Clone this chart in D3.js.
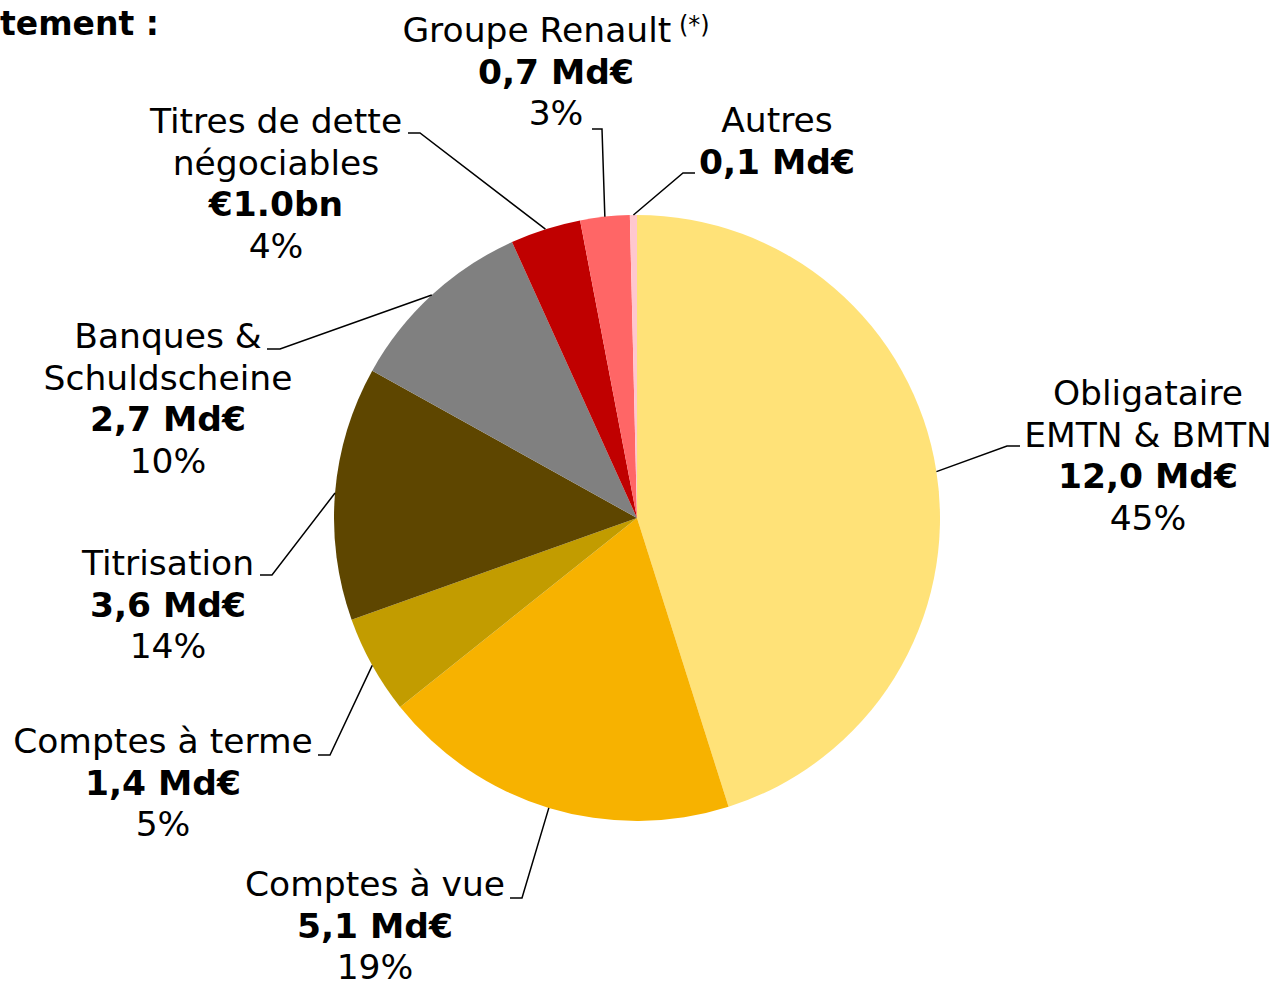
<!DOCTYPE html>
<html>
<head>
<meta charset="utf-8">
<script src="https://cdn.jsdelivr.net/npm/d3@7"></script>
<style>
  body { margin: 0; background: #fff; }
  text { font-family: "DejaVu Sans", Verdana, sans-serif; fill: #000; }
</style>
</head>
<body>
<div class="chart"></div>
<script>
// data (Md€)
var categories = ["Obligataire EMTN & BMTN", "Comptes à vue", "Comptes à terme", "Titrisation",
                  "Banques & Schuldscheine", "Titres de dette négociables", "Groupe Renault", "Autres"];
var nameLines = [["Obligataire", "EMTN & BMTN"], ["Comptes à vue"], ["Comptes à terme"], ["Titrisation"],
                 ["Banques &", "Schuldscheine"], ["Titres de dette", "négociables"], ["Groupe Renault"], ["Autres"]];
var values = [12.0, 5.1, 1.4, 3.6, 2.7, 1.0, 0.7, 0.1];
var amountLabels = ["12,0 Md€", "5,1 Md€", "1,4 Md€", "3,6 Md€", "2,7 Md€", "€1.0bn", "0,7 Md€", "0,1 Md€"];
var pctLabels = ["45%", "19%", "5%", "14%", "10%", "4%", "3%", ""];
var colors = ["#FFE278", "#F7B200", "#C29C00", "#5E4600", "#808080", "#C00000", "#FF6666", "#FFC7CE"];

// label placement: text centre x, first baseline, leader elbow and end of the short horizontal
var labelLayout = [
  { cx: 1148, y: 405, ex: 1007, ey: 446, hx: 1020 },
  { cx: 375,  y: 896, ex: 522,  ey: 898, hx: 510 },
  { cx: 163,  y: 753, ex: 330,  ey: 755, hx: 318 },
  { cx: 168,  y: 575, ex: 272,  ey: 575, hx: 260 },
  { cx: 168,  y: 348, ex: 280,  ey: 349, hx: 267 },
  { cx: 276,  y: 133, ex: 420,  ey: 133, hx: 408 },
  { cx: 556,  y: 42,  ex: 602,  ey: 129, hx: 592 },
  { cx: 777,  y: 132, ex: 683,  ey: 173, hx: 695 }
];

var width = 1277, height = 986, cx = 637, cy = 518, radius = 303;
var fontSize = 34.5, lineH = 41.5;

var svg = d3.select(".chart").append("svg")
  .attr("width", width)
  .attr("height", height);

// title fragment at top-left
svg.append("text")
  .attr("x", 0)
  .attr("y", 35)
  .style("font-size", "33px")
  .style("font-weight", "bold")
  .text("tement :");

var pie = d3.pie().sort(null).value(function(d) { return d; });
var arcs = pie(values);
var arc = d3.arc().innerRadius(0).outerRadius(radius);
var edge = d3.arc().innerRadius(radius).outerRadius(radius);

var g = svg.append("g").attr("transform", "translate(" + cx + "," + cy + ")");

g.selectAll("path.slice").data(arcs).enter().append("path")
  .attr("class", "slice")
  .attr("d", arc)
  .attr("fill", function(d, i) { return colors[i]; });

// leader lines
svg.selectAll("polyline.leader").data(arcs).enter().append("polyline")
  .attr("class", "leader")
  .attr("points", function(d, i) {
    var p = edge.centroid(d), L = labelLayout[i];
    return [[cx + p[0], cy + p[1]], [L.ex, L.ey], [L.hx, L.ey]].join(" ");
  })
  .attr("fill", "none")
  .attr("stroke", "#000")
  .attr("stroke-width", 1.5);

// labels
categories.forEach(function(c, i) {
  var L = labelLayout[i];
  var t = svg.append("text")
    .attr("x", L.cx)
    .attr("y", L.y)
    .attr("text-anchor", "middle")
    .style("font-size", fontSize + "px");
  var rows = nameLines[i].length;
  nameLines[i].forEach(function(line, k) {
    t.append("tspan").attr("x", L.cx).attr("y", L.y + k * lineH).text(line);
    if (i === 6) {
      t.append("tspan").attr("dy", -9).style("font-size", "24px").text(" (*)");
    }
  });
  t.append("tspan").attr("x", L.cx).attr("y", L.y + rows * lineH)
    .style("font-weight", "bold").text(amountLabels[i]);
  if (pctLabels[i]) {
    t.append("tspan").attr("x", L.cx).attr("y", L.y + (rows + 1) * lineH).text(pctLabels[i]);
  }
});
</script>
</body>
</html>
